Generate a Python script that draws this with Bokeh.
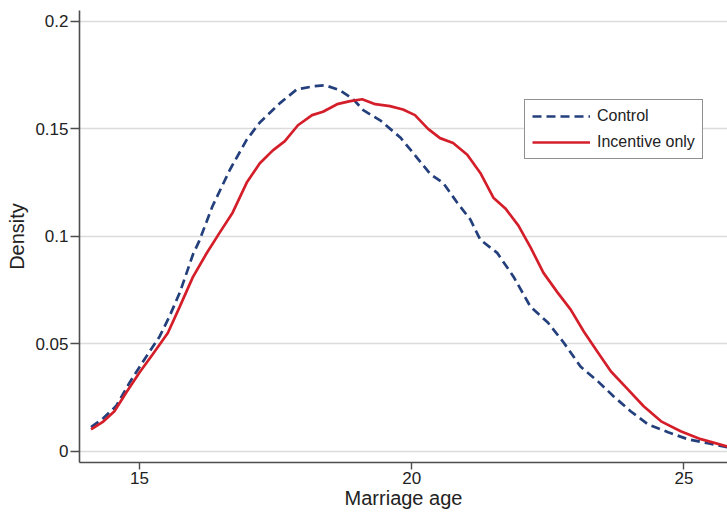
from bokeh.plotting import figure
from bokeh.models import Range1d, FixedTicker, Legend, LegendItem
from bokeh.embed import file_html
from bokeh.resources import INLINE

control_age = [14.11, 14.32, 14.57, 14.82, 15.09, 15.37, 15.55, 15.74, 15.98, 16.10, 16.34, 16.66,
               16.97, 17.21, 17.58, 17.89, 18.19, 18.41, 18.68, 18.92, 19.11, 19.42, 19.79, 20.03,
               20.34, 20.58, 20.84, 21.08, 21.26, 21.57, 21.87, 22.18, 22.50, 22.79, 23.10, 23.42,
               23.71, 24.02, 24.34, 24.71, 25.07, 25.44, 25.80]
control_density = [0.0112, 0.015, 0.021, 0.032, 0.0427, 0.0534, 0.0627, 0.0738, 0.0914, 0.098, 0.114,
                   0.131, 0.145, 0.153, 0.162, 0.1684, 0.1698, 0.1703, 0.168, 0.164, 0.1587, 0.154,
                   0.146, 0.1387, 0.129, 0.1248, 0.1155, 0.1077, 0.0984, 0.0923, 0.0812, 0.0673,
                   0.0599, 0.0506, 0.0394, 0.0325, 0.0255, 0.0186, 0.0125, 0.0088, 0.0056, 0.0037,
                   0.0019]

incentive_age = [14.11, 14.32, 14.54, 14.76, 15.0, 15.24, 15.52, 15.74, 15.98, 16.23, 16.47, 16.71,
                 16.97, 17.21, 17.45, 17.67, 17.91, 18.17, 18.37, 18.63, 18.87, 19.09, 19.33, 19.60,
                 19.84, 20.06, 20.30, 20.52, 20.76, 21.02, 21.26, 21.50, 21.72, 21.96, 22.18, 22.42,
                 22.68, 22.92, 23.16, 23.42, 23.66, 23.97, 24.26, 24.58, 24.94, 25.31, 25.80]
incentive_density = [0.0102, 0.0135, 0.0186, 0.0274, 0.0366, 0.045, 0.055, 0.0673, 0.081, 0.092,
                     0.1016, 0.111, 0.125, 0.134, 0.140, 0.1443, 0.1517, 0.1564, 0.158, 0.1615,
                     0.1629, 0.1638, 0.1615, 0.1606, 0.159, 0.1564, 0.150, 0.1457, 0.1434, 0.138,
                     0.1295, 0.118, 0.113, 0.105, 0.095, 0.083, 0.0738, 0.0659, 0.0557, 0.0459,
                     0.0371, 0.0288, 0.0209, 0.0139, 0.0093, 0.0056, 0.0022]

x_ticks = [15, 20, 25]
y_ticks = [0, 0.05, 0.1, 0.15, 0.2]
y_tick_labels = ["0", "0.05", "0.1", "0.15", "0.2"]
series_names = ["Control", "Incentive only"]
x_title = "Marriage age"
y_title = "Density"

p = figure(width=727, height=516, output_backend="svg", toolbar_location=None,
           x_range=Range1d(13.898, 25.80), y_range=Range1d(-0.00526, 0.2051),
           min_border_left=79, min_border_right=0, min_border_top=10, min_border_bottom=54)
p.outline_line_color = None
p.background_fill_color = "white"
p.border_fill_color = "white"

r1 = p.line(control_age, control_density, line_color="#233f7c", line_width=2.7, line_dash="9 5")
r2 = p.line(incentive_age, incentive_density, line_color="#d41f2b", line_width=2.7)

font = "Liberation Sans"
for ax in (p.xaxis[0], p.yaxis[0]):
    ax.axis_line_color = "#4d4d4d"
    ax.axis_line_width = 1.6
    ax.major_tick_line_color = "#4d4d4d"
    ax.major_tick_line_width = 1.4
    ax.major_tick_in = 0
    ax.minor_tick_line_color = None
    ax.major_label_text_font = font
    ax.major_label_text_font_size = "17px"
    ax.major_label_text_color = "#222222"
    ax.axis_label_text_font = font
    ax.axis_label_text_font_style = "normal"
    ax.axis_label_text_font_size = "20px"
    ax.axis_label_text_color = "#222222"

p.xaxis.major_tick_out = 7
p.yaxis.major_tick_out = 9
p.xaxis.ticker = FixedTicker(ticks=x_ticks)
p.yaxis.ticker = FixedTicker(ticks=y_ticks)
p.yaxis.major_label_overrides = {t: l for t, l in zip(y_ticks, y_tick_labels)}
p.yaxis.major_label_orientation = "horizontal"
p.xaxis.axis_label = x_title
p.yaxis.axis_label = y_title
p.xaxis.major_label_standoff = 2
p.xaxis.axis_label_standoff = 0
p.yaxis.major_label_standoff = 2
p.yaxis.axis_label_standoff = 4

p.xgrid.grid_line_color = None
p.ygrid.grid_line_color = "#dcdcdc"
p.ygrid.grid_line_width = 1.6

legend = Legend(items=[LegendItem(label=series_names[0], renderers=[r1]),
                       LegendItem(label=series_names[1], renderers=[r2])],
                location=(445, 303), orientation="vertical")
legend.border_line_color = "#222222"
legend.border_line_width = 1.2
legend.background_fill_color = "white"
legend.background_fill_alpha = 1
legend.padding = 7
legend.spacing = 8
legend.margin = 0
legend.glyph_width = 58
legend.glyph_height = 14
legend.label_height = 14
legend.label_standoff = 7
legend.label_text_font = font
legend.label_text_font_size = "16px"
legend.label_text_color = "#222222"
p.add_layout(legend, "center")

open("out.html", "w").write(file_html(p, INLINE))
